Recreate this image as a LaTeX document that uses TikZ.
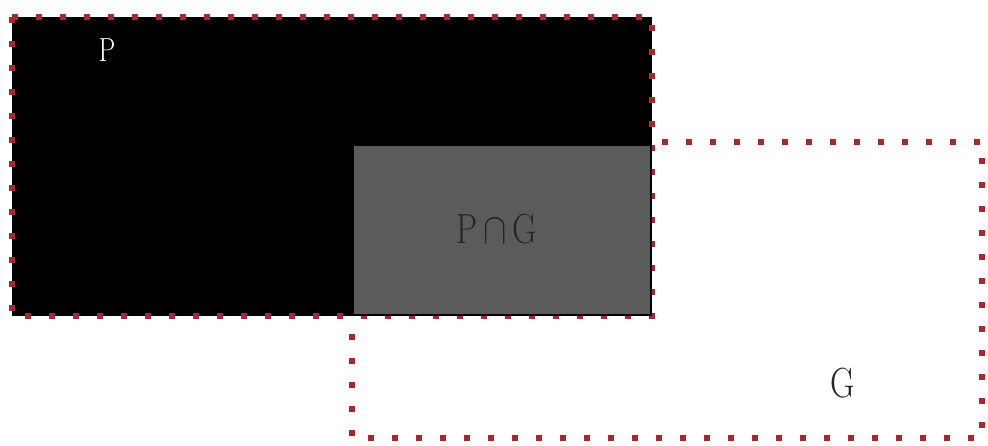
\documentclass[tikz,border=0pt]{standalone}
\usepackage{tikz}
\definecolor{dotred}{HTML}{a8282e}
\definecolor{cutgray}{HTML}{5b5b5b}
\tikzset{
  dotline/.style={draw=dotred,line width=0.12cm,dash pattern=on 0.12cm off 0.36cm},
  lbl/.style={font=\fontsize{24}{26}\selectfont,xscale=0.8}
}
\begin{document}
\begin{tikzpicture}[x=0.02cm,y=-0.02cm]
  \useasboundingbox (0,0) rectangle (988,446);
  % box G, dotted outline only
  \draw[dotline] (352,142) rectangle (982,438);
  % box P, filled black
  \fill[black] (12,17) rectangle (652,316);
  \draw[dotline] (12,17) rectangle (652,316);
  % overlap P and G
  \draw[fill=cutgray,draw=black,line width=0.6pt] (353,145) rectangle (651,315);
  % labels
  \node[lbl,white,font=\fontsize{19}{21}\selectfont] (p) at (107,50) {P};
  \node[lbl,black!85] (pg) at (497,229) {P\,$\cap$\,G};
  \node[lbl,black!85] (g) at (843,383) {G};
\end{tikzpicture}
\end{document}
